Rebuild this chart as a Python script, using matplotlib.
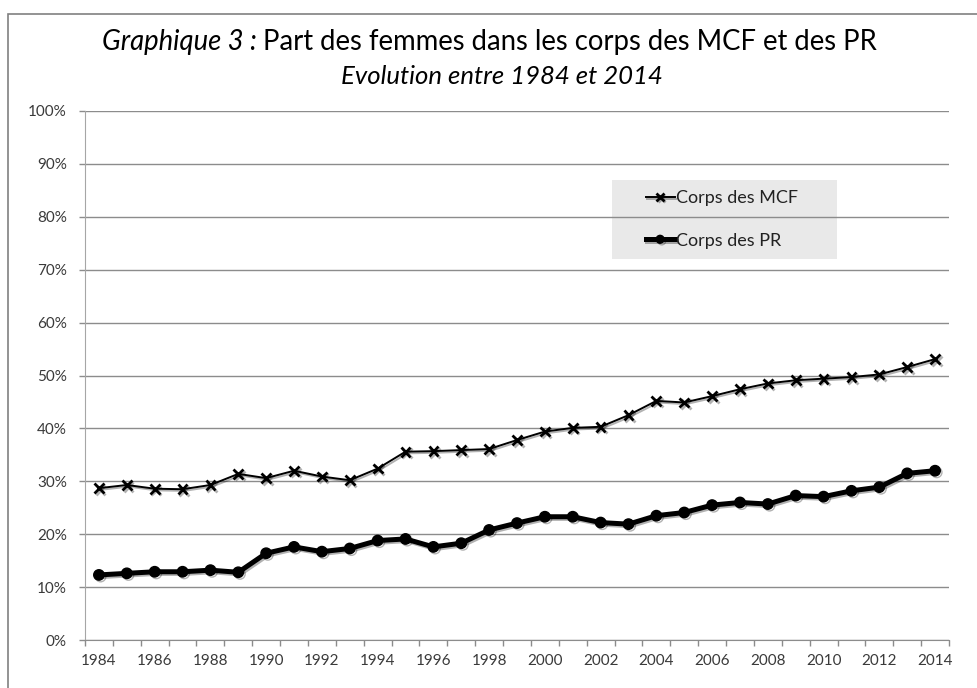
import matplotlib
matplotlib.use("Agg")
import matplotlib.pyplot as plt
import matplotlib.patheffects as pe
from matplotlib.patches import Rectangle

plt.rcParams['font.family'] = ['Lato', 'DejaVu Sans']

years = list(range(1984, 2015))
mcf = [28.7, 29.3, 28.6, 28.5, 29.3, 31.4, 30.6, 32.0, 30.9, 30.2,
       32.4, 35.6, 35.7, 35.9, 36.1, 37.8, 39.4, 40.1, 40.3, 42.5,
       45.2, 44.9, 46.1, 47.4, 48.5, 49.1, 49.4, 49.7, 50.2, 51.6, 53.1]
pr = [12.3, 12.6, 12.9, 12.9, 13.2, 12.8, 16.4, 17.6, 16.7, 17.3,
      18.8, 19.1, 17.6, 18.3, 20.8, 22.1, 23.3, 23.3, 22.2, 21.9,
      23.5, 24.1, 25.5, 26.0, 25.7, 27.3, 27.1, 28.2, 28.9, 31.5, 32.0]
labels = ['Corps des MCF', 'Corps des PR']
y_ticks = [0, 10, 20, 30, 40, 50, 60, 70, 80, 90, 100]

W, H = 977, 688
fig = plt.figure(figsize=(W / 100, H / 100), dpi=100)

def fx(px):
    return px / W

def fy(py):
    return 1 - py / H

# outer frame
fig.patches.append(Rectangle((fx(8), fy(700)), fx(1000) - fx(8), fy(14) - fy(700),
                             transform=fig.transFigure, fill=False,
                             edgecolor='#808080', linewidth=1.2))

ax = fig.add_axes([fx(85), fy(640), fx(949) - fx(85), fy(111) - fy(640)])

x = list(range(len(years)))
shadow = [pe.SimpleLineShadow(offset=(1.2, -1.2), alpha=0.3, shadow_color='black'), pe.Normal()]
ax.plot(x, mcf, color='black', lw=1.4, marker='x', ms=7, mew=2,
        label=labels[0], zorder=3, path_effects=shadow)
ax.plot(x, pr, color='black', lw=3.6, marker='o', ms=7.5,
        label=labels[1], zorder=3, path_effects=shadow)

ax.set_xlim(-0.5, len(years) - 0.5)
ax.set_ylim(0, 100)

grey = '#8c8c8c'
ax.set_yticks(y_ticks)
ax.set_yticklabels([f'{v}%' for v in y_ticks])
ax.yaxis.grid(True, color=grey, lw=1)
ax.set_axisbelow(True)

# category boundaries as tick marks, labels every two years
ax.set_xticks([i - 0.5 for i in range(len(years) + 1)])
ax.set_xticklabels([])
ax.set_xticks(x[::2], minor=True)
ax.set_xticklabels([str(y) for y in years[::2]], minor=True)
ax.tick_params(axis='x', which='major', length=4, color=grey, width=1)
ax.tick_params(axis='x', which='minor', length=0, pad=10, labelsize=11, labelcolor='#3a3a3a')
ax.tick_params(axis='y', length=4, color=grey, width=1, pad=9, labelsize=11, labelcolor='#3a3a3a')

for s in ['top', 'right']:
    ax.spines[s].set_visible(False)
ax.spines['left'].set_color('#a6a6a6')
ax.spines['bottom'].set_color(grey)

# legend box (under the gridlines, like the original)
ax.add_patch(Rectangle((fx(612), fy(259)), fx(837) - fx(612), fy(180) - fy(259),
                       transform=fig.transFigure, facecolor='#e9e9e9',
                       edgecolor='none', zorder=0.2, clip_on=False))
leg = ax.legend(loc='center', bbox_to_anchor=(fx(722), fy(219.5)),
                bbox_transform=fig.transFigure, frameon=False,
                fontsize=13, handlelength=1.6, handletextpad=0.1,
                labelspacing=1.45, labelcolor='#222222', markerscale=0.75)
leg.set_zorder(4)

# title with mixed styles
y1 = fy(50)
t1 = fig.text(0, y1, 'Graphique 3 : ', fontsize=19.8, style='italic', va='baseline')
t2 = fig.text(0, y1, 'Part des femmes dans les corps des MCF et des PR',
              fontsize=19.8, va='baseline')
fig.canvas.draw()
r = fig.canvas.get_renderer()
w1 = t1.get_window_extent(r).width
w2 = t2.get_window_extent(r).width
start = 489 - (w1 + w2) / 2
t1.set_x(fx(start))
t2.set_x(fx(start + w1))
fig.text(fx(502), fy(84), 'Evolution entre 1984 et 2014', fontsize=18.5,
         style='italic', ha='center', va='baseline')

fig.savefig('out.png', dpi=100)
